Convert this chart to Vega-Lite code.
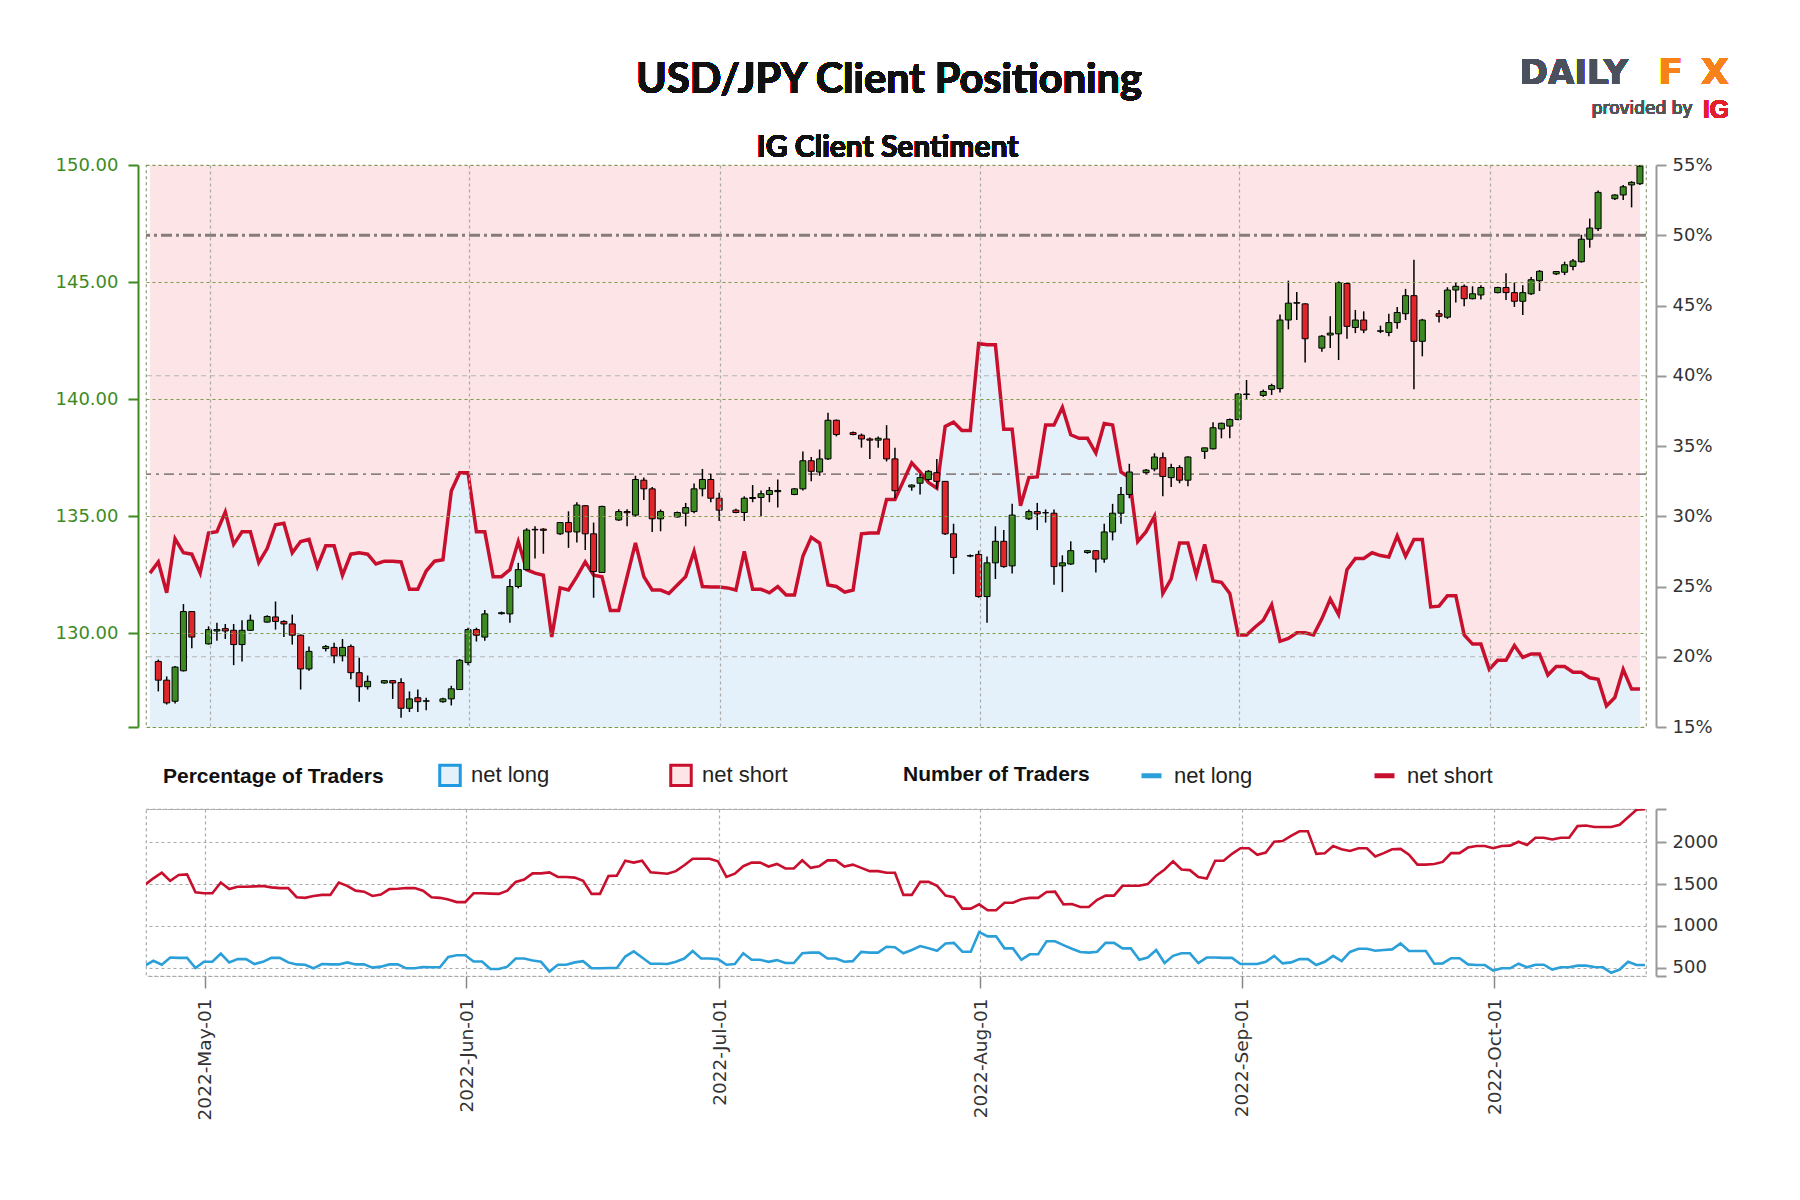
{
"$schema": "https://vega.github.io/schema/vega-lite/v6.json",
"padding": {"left": 54, "top": 54, "right": 20, "bottom": 20},
"background": "white",
"config": {"font": "DejaVu Sans"},
"bounds": "flush",
"spacing": 82,
"resolve": {"scale": {"fill": "independent", "stroke": "independent"}, "legend": {"fill": "independent", "stroke": "independent"}},
"datasets": {
"daily": [
{"d":"2022-04-24","p":25.95,"net long":524,"net short":1492},
{"d":"2022-04-25","p":26.75,"net long":582,"net short":1570},
{"d":"2022-04-26","p":24.56,"net long":535,"net short":1637},
{"d":"2022-04-27","p":28.4,"net long":621,"net short":1539},
{"d":"2022-04-28","p":27.4,"net long":617,"net short":1609},
{"d":"2022-04-29","p":27.3,"net long":617,"net short":1617},
{"d":"2022-04-30","p":25.95,"net long":496,"net short":1402},
{"d":"2022-05-01","p":28.8,"net long":570,"net short":1391},
{"d":"2022-05-02","p":28.9,"net long":570,"net short":1391},
{"d":"2022-05-03","p":30.3,"net long":668,"net short":1520},
{"d":"2022-05-04","p":28.0,"net long":563,"net short":1441},
{"d":"2022-05-05","p":28.9,"net long":602,"net short":1469},
{"d":"2022-05-06","p":28.9,"net long":602,"net short":1469},
{"d":"2022-05-07","p":26.7,"net long":543,"net short":1473},
{"d":"2022-05-08","p":27.7,"net long":570,"net short":1477},
{"d":"2022-05-09","p":29.4,"net long":617,"net short":1461},
{"d":"2022-05-10","p":29.5,"net long":617,"net short":1453},
{"d":"2022-05-11","p":27.4,"net long":563,"net short":1453},
{"d":"2022-05-12","p":28.2,"net long":539,"net short":1344},
{"d":"2022-05-13","p":28.35,"net long":535,"net short":1336},
{"d":"2022-05-14","p":26.4,"net long":492,"net short":1359},
{"d":"2022-05-15","p":27.9,"net long":543,"net short":1371},
{"d":"2022-05-16","p":27.9,"net long":539,"net short":1371},
{"d":"2022-05-17","p":25.8,"net long":539,"net short":1520},
{"d":"2022-05-18","p":27.3,"net long":563,"net short":1480},
{"d":"2022-05-19","p":27.4,"net long":539,"net short":1422},
{"d":"2022-05-20","p":27.3,"net long":539,"net short":1410},
{"d":"2022-05-21","p":26.6,"net long":500,"net short":1359},
{"d":"2022-05-22","p":26.8,"net long":512,"net short":1375},
{"d":"2022-05-23","p":26.8,"net long":539,"net short":1441},
{"d":"2022-05-24","p":26.75,"net long":539,"net short":1445},
{"d":"2022-05-25","p":24.8,"net long":492,"net short":1453},
{"d":"2022-05-26","p":24.8,"net long":492,"net short":1453},
{"d":"2022-05-27","p":26.1,"net long":508,"net short":1422},
{"d":"2022-05-28","p":26.8,"net long":504,"net short":1344},
{"d":"2022-05-29","p":26.9,"net long":504,"net short":1336},
{"d":"2022-05-30","p":31.8,"net long":629,"net short":1316},
{"d":"2022-05-31","p":33.1,"net long":649,"net short":1285},
{"d":"2022-06-01","p":33.1,"net long":649,"net short":1285},
{"d":"2022-06-02","p":28.9,"net long":574,"net short":1391},
{"d":"2022-06-03","p":28.9,"net long":574,"net short":1391},
{"d":"2022-06-04","p":25.7,"net long":484,"net short":1387},
{"d":"2022-06-05","p":25.7,"net long":484,"net short":1383},
{"d":"2022-06-06","p":26.2,"net long":512,"net short":1422},
{"d":"2022-06-07","p":28.2,"net long":609,"net short":1527},
{"d":"2022-06-08","p":26.2,"net long":609,"net short":1555},
{"d":"2022-06-09","p":25.95,"net long":586,"net short":1629},
{"d":"2022-06-10","p":25.8,"net long":570,"net short":1629},
{"d":"2022-06-11","p":21.4,"net long":453,"net short":1641},
{"d":"2022-06-12","p":24.9,"net long":535,"net short":1586},
{"d":"2022-06-13","p":24.75,"net long":535,"net short":1586},
{"d":"2022-06-14","p":25.7,"net long":563,"net short":1578},
{"d":"2022-06-15","p":26.75,"net long":578,"net short":1539},
{"d":"2022-06-16","p":25.8,"net long":492,"net short":1383},
{"d":"2022-06-17","p":25.7,"net long":492,"net short":1383},
{"d":"2022-06-18","p":23.3,"net long":496,"net short":1598},
{"d":"2022-06-19","p":23.3,"net long":496,"net short":1602},
{"d":"2022-06-20","p":25.7,"net long":633,"net short":1781},
{"d":"2022-06-21","p":28.1,"net long":695,"net short":1758},
{"d":"2022-06-22","p":25.7,"net long":621,"net short":1781},
{"d":"2022-06-23","p":24.75,"net long":547,"net short":1641},
{"d":"2022-06-24","p":24.75,"net long":547,"net short":1633},
{"d":"2022-06-25","p":24.5,"net long":543,"net short":1625},
{"d":"2022-06-26","p":25.1,"net long":570,"net short":1656},
{"d":"2022-06-27","p":25.7,"net long":609,"net short":1727},
{"d":"2022-06-28","p":27.5,"net long":699,"net short":1805},
{"d":"2022-06-29","p":25.0,"net long":609,"net short":1805},
{"d":"2022-06-30","p":24.96,"net long":609,"net short":1805},
{"d":"2022-07-01","p":24.96,"net long":602,"net short":1773},
{"d":"2022-07-02","p":24.9,"net long":535,"net short":1586},
{"d":"2022-07-03","p":24.75,"net long":543,"net short":1625},
{"d":"2022-07-04","p":27.5,"net long":672,"net short":1715},
{"d":"2022-07-05","p":24.8,"net long":594,"net short":1758},
{"d":"2022-07-06","p":24.8,"net long":594,"net short":1758},
{"d":"2022-07-07","p":24.55,"net long":570,"net short":1711},
{"d":"2022-07-08","p":25.0,"net long":590,"net short":1742},
{"d":"2022-07-09","p":24.4,"net long":555,"net short":1688},
{"d":"2022-07-10","p":24.4,"net long":555,"net short":1688},
{"d":"2022-07-11","p":27.15,"net long":672,"net short":1785},
{"d":"2022-07-12","p":28.5,"net long":680,"net short":1695},
{"d":"2022-07-13","p":28.1,"net long":680,"net short":1715},
{"d":"2022-07-14","p":25.1,"net long":609,"net short":1785},
{"d":"2022-07-15","p":25.0,"net long":609,"net short":1785},
{"d":"2022-07-16","p":24.6,"net long":570,"net short":1711},
{"d":"2022-07-17","p":24.75,"net long":578,"net short":1734},
{"d":"2022-07-18","p":28.75,"net long":688,"net short":1695},
{"d":"2022-07-19","p":28.8,"net long":680,"net short":1656},
{"d":"2022-07-20","p":28.8,"net long":680,"net short":1656},
{"d":"2022-07-21","p":31.2,"net long":750,"net short":1637},
{"d":"2022-07-22","p":31.2,"net long":745,"net short":1637},
{"d":"2022-07-23","p":32.5,"net long":672,"net short":1371},
{"d":"2022-07-24","p":33.8,"net long":711,"net short":1371},
{"d":"2022-07-25","p":33.15,"net long":758,"net short":1527},
{"d":"2022-07-26","p":32.4,"net long":731,"net short":1527},
{"d":"2022-07-27","p":32.0,"net long":703,"net short":1480},
{"d":"2022-07-28","p":36.4,"net long":789,"net short":1363},
{"d":"2022-07-29","p":36.7,"net long":797,"net short":1344},
{"d":"2022-07-30","p":36.1,"net long":691,"net short":1207},
{"d":"2022-07-31","p":36.1,"net long":691,"net short":1207},
{"d":"2022-08-01","p":42.3,"net long":926,"net short":1258},
{"d":"2022-08-02","p":42.2,"net long":875,"net short":1188},
{"d":"2022-08-03","p":42.2,"net long":875,"net short":1188},
{"d":"2022-08-04","p":36.2,"net long":731,"net short":1277},
{"d":"2022-08-05","p":36.2,"net long":731,"net short":1277},
{"d":"2022-08-06","p":30.75,"net long":594,"net short":1320},
{"d":"2022-08-07","p":32.75,"net long":660,"net short":1336},
{"d":"2022-08-08","p":32.8,"net long":660,"net short":1336},
{"d":"2022-08-09","p":36.5,"net long":816,"net short":1406},
{"d":"2022-08-10","p":36.5,"net long":816,"net short":1410},
{"d":"2022-08-11","p":37.75,"net long":770,"net short":1258},
{"d":"2022-08-12","p":35.8,"net long":727,"net short":1262},
{"d":"2022-08-13","p":35.55,"net long":688,"net short":1227},
{"d":"2022-08-14","p":35.55,"net long":680,"net short":1227},
{"d":"2022-08-15","p":34.5,"net long":691,"net short":1313},
{"d":"2022-08-16","p":36.6,"net long":797,"net short":1363},
{"d":"2022-08-17","p":36.5,"net long":797,"net short":1363},
{"d":"2022-08-18","p":33.15,"net long":731,"net short":1480},
{"d":"2022-08-19","p":32.75,"net long":731,"net short":1480},
{"d":"2022-08-20","p":28.2,"net long":594,"net short":1480},
{"d":"2022-08-21","p":28.9,"net long":621,"net short":1500},
{"d":"2022-08-22","p":30.0,"net long":711,"net short":1602},
{"d":"2022-08-23","p":24.5,"net long":555,"net short":1676},
{"d":"2022-08-24","p":25.55,"net long":641,"net short":1773},
{"d":"2022-08-25","p":28.1,"net long":672,"net short":1676},
{"d":"2022-08-26","p":28.1,"net long":672,"net short":1668},
{"d":"2022-08-27","p":25.8,"net long":555,"net short":1586},
{"d":"2022-08-28","p":28.0,"net long":621,"net short":1566},
{"d":"2022-08-29","p":25.4,"net long":621,"net short":1781},
{"d":"2022-08-30","p":25.3,"net long":617,"net short":1781},
{"d":"2022-08-31","p":24.5,"net long":617,"net short":1863},
{"d":"2022-09-01","p":21.55,"net long":543,"net short":1930},
{"d":"2022-09-02","p":21.55,"net long":543,"net short":1930},
{"d":"2022-09-03","p":22.1,"net long":543,"net short":1852},
{"d":"2022-09-04","p":22.6,"net long":570,"net short":1879},
{"d":"2022-09-05","p":23.7,"net long":641,"net short":2008},
{"d":"2022-09-06","p":21.1,"net long":551,"net short":2016},
{"d":"2022-09-07","p":21.3,"net long":563,"net short":2078},
{"d":"2022-09-08","p":21.7,"net long":602,"net short":2133},
{"d":"2022-09-09","p":21.7,"net long":602,"net short":2133},
{"d":"2022-09-10","p":21.55,"net long":531,"net short":1863},
{"d":"2022-09-11","p":22.7,"net long":570,"net short":1871},
{"d":"2022-09-12","p":24.1,"net long":641,"net short":1957},
{"d":"2022-09-13","p":23.0,"net long":578,"net short":1918},
{"d":"2022-09-14","p":26.2,"net long":688,"net short":1898},
{"d":"2022-09-15","p":27.0,"net long":727,"net short":1930},
{"d":"2022-09-16","p":27.0,"net long":727,"net short":1930},
{"d":"2022-09-17","p":27.4,"net long":703,"net short":1832},
{"d":"2022-09-18","p":27.2,"net long":711,"net short":1871},
{"d":"2022-09-19","p":27.1,"net long":719,"net short":1918},
{"d":"2022-09-20","p":28.6,"net long":789,"net short":1922},
{"d":"2022-09-21","p":27.15,"net long":699,"net short":1852},
{"d":"2022-09-22","p":28.35,"net long":699,"net short":1734},
{"d":"2022-09-23","p":28.35,"net long":699,"net short":1734},
{"d":"2022-09-24","p":23.55,"net long":547,"net short":1742},
{"d":"2022-09-25","p":23.6,"net long":551,"net short":1766},
{"d":"2022-09-26","p":24.35,"net long":613,"net short":1871},
{"d":"2022-09-27","p":24.35,"net long":613,"net short":1871},
{"d":"2022-09-28","p":21.55,"net long":539,"net short":1938},
{"d":"2022-09-29","p":20.9,"net long":531,"net short":1957},
{"d":"2022-09-30","p":20.9,"net long":531,"net short":1957},
{"d":"2022-10-01","p":19.1,"net long":465,"net short":1930},
{"d":"2022-10-02","p":19.75,"net long":492,"net short":1957},
{"d":"2022-10-03","p":19.75,"net long":492,"net short":1961},
{"d":"2022-10-04","p":20.8,"net long":547,"net short":2008},
{"d":"2022-10-05","p":19.95,"net long":504,"net short":1969},
{"d":"2022-10-06","p":20.2,"net long":535,"net short":2055},
{"d":"2022-10-07","p":20.2,"net long":535,"net short":2055},
{"d":"2022-10-08","p":18.7,"net long":477,"net short":2035},
{"d":"2022-10-09","p":19.3,"net long":504,"net short":2055},
{"d":"2022-10-10","p":19.3,"net long":504,"net short":2055},
{"d":"2022-10-11","p":18.9,"net long":524,"net short":2195},
{"d":"2022-10-12","p":18.9,"net long":524,"net short":2203},
{"d":"2022-10-13","p":18.5,"net long":508,"net short":2184},
{"d":"2022-10-14","p":18.4,"net long":504,"net short":2184},
{"d":"2022-10-15","p":16.5,"net long":438,"net short":2184},
{"d":"2022-10-16","p":17.1,"net long":477,"net short":2211},
{"d":"2022-10-17","p":19.1,"net long":570,"net short":2301},
{"d":"2022-10-18","p":17.7,"net long":531,"net short":2391},
{"d":"2022-10-19","p":17.7,"net long":531,"net short":2398}
],
"candles": [
{"d":"2022-04-25","o":128.8,"h":128.88,"l":127.52,"c":128.0},
{"d":"2022-04-26","o":128.0,"h":128.16,"l":126.96,"c":127.03},
{"d":"2022-04-27","o":127.1,"h":128.6,"l":127.0,"c":128.56},
{"d":"2022-04-28","o":128.4,"h":131.25,"l":128.37,"c":130.93},
{"d":"2022-04-29","o":130.93,"h":130.95,"l":129.36,"c":129.84},
{"d":"2022-05-01","o":129.55,"h":130.3,"l":129.52,"c":130.16},
{"d":"2022-05-02","o":130.1,"h":130.45,"l":129.68,"c":130.16},
{"d":"2022-05-03","o":130.2,"h":130.4,"l":129.76,"c":130.1},
{"d":"2022-05-04","o":130.13,"h":130.4,"l":128.64,"c":129.52},
{"d":"2022-05-05","o":129.52,"h":130.56,"l":128.8,"c":130.13},
{"d":"2022-05-06","o":130.13,"h":130.8,"l":130.1,"c":130.56},
{"d":"2022-05-08","o":130.48,"h":130.77,"l":130.45,"c":130.72},
{"d":"2022-05-09","o":130.7,"h":131.36,"l":130.16,"c":130.51},
{"d":"2022-05-10","o":130.51,"h":130.56,"l":129.84,"c":130.4},
{"d":"2022-05-11","o":130.4,"h":130.8,"l":129.52,"c":129.92},
{"d":"2022-05-12","o":129.92,"h":129.95,"l":127.6,"c":128.48},
{"d":"2022-05-13","o":128.48,"h":129.44,"l":128.4,"c":129.23},
{"d":"2022-05-15","o":129.35,"h":129.5,"l":129.23,"c":129.44},
{"d":"2022-05-16","o":129.4,"h":129.6,"l":128.72,"c":129.04},
{"d":"2022-05-17","o":129.04,"h":129.76,"l":128.8,"c":129.4},
{"d":"2022-05-18","o":129.44,"h":129.52,"l":128.04,"c":128.32},
{"d":"2022-05-19","o":128.32,"h":128.96,"l":127.08,"c":127.72},
{"d":"2022-05-20","o":127.72,"h":128.2,"l":127.6,"c":127.95},
{"d":"2022-05-22","o":127.88,"h":128.0,"l":127.85,"c":127.98},
{"d":"2022-05-23","o":127.98,"h":128.0,"l":127.2,"c":127.88},
{"d":"2022-05-24","o":127.9,"h":128.08,"l":126.4,"c":126.8},
{"d":"2022-05-25","o":126.8,"h":127.52,"l":126.64,"c":127.2},
{"d":"2022-05-26","o":127.25,"h":127.6,"l":126.64,"c":127.08},
{"d":"2022-05-27","o":127.1,"h":127.25,"l":126.72,"c":127.12},
{"d":"2022-05-29","o":127.08,"h":127.25,"l":127.04,"c":127.2},
{"d":"2022-05-30","o":127.2,"h":127.76,"l":126.92,"c":127.63},
{"d":"2022-05-31","o":127.6,"h":128.9,"l":127.6,"c":128.85},
{"d":"2022-06-01","o":128.75,"h":130.24,"l":128.64,"c":130.16},
{"d":"2022-06-02","o":130.16,"h":130.24,"l":129.65,"c":129.92},
{"d":"2022-06-03","o":129.84,"h":131.0,"l":129.68,"c":130.83},
{"d":"2022-06-05","o":130.84,"h":130.93,"l":130.8,"c":130.88},
{"d":"2022-06-06","o":130.83,"h":132.32,"l":130.45,"c":132.0},
{"d":"2022-06-07","o":132.0,"h":133.01,"l":131.92,"c":132.72},
{"d":"2022-06-08","o":132.72,"h":134.49,"l":132.7,"c":134.41},
{"d":"2022-06-09","o":134.44,"h":134.57,"l":133.2,"c":134.42},
{"d":"2022-06-10","o":134.45,"h":134.49,"l":133.4,"c":134.4},
{"d":"2022-06-12","o":134.25,"h":134.73,"l":134.2,"c":134.73},
{"d":"2022-06-13","o":134.73,"h":135.21,"l":133.65,"c":134.33},
{"d":"2022-06-14","o":134.33,"h":135.6,"l":133.88,"c":135.48},
{"d":"2022-06-15","o":135.45,"h":135.48,"l":133.56,"c":134.25},
{"d":"2022-06-16","o":134.25,"h":134.73,"l":131.52,"c":132.64},
{"d":"2022-06-17","o":132.6,"h":135.45,"l":132.6,"c":135.42},
{"d":"2022-06-19","o":134.84,"h":135.3,"l":134.8,"c":135.2},
{"d":"2022-06-20","o":135.2,"h":135.3,"l":134.57,"c":135.15},
{"d":"2022-06-21","o":135.05,"h":136.73,"l":134.97,"c":136.57},
{"d":"2022-06-22","o":136.54,"h":136.65,"l":135.69,"c":136.17},
{"d":"2022-06-23","o":136.17,"h":136.25,"l":134.33,"c":134.89},
{"d":"2022-06-24","o":134.89,"h":135.29,"l":134.36,"c":135.2},
{"d":"2022-06-26","o":134.97,"h":135.2,"l":134.94,"c":135.16},
{"d":"2022-06-27","o":135.13,"h":135.57,"l":134.57,"c":135.37},
{"d":"2022-06-28","o":135.2,"h":136.4,"l":135.13,"c":136.17},
{"d":"2022-06-29","o":136.17,"h":137.02,"l":135.85,"c":136.57},
{"d":"2022-06-30","o":136.57,"h":136.81,"l":135.6,"c":135.77},
{"d":"2022-07-01","o":135.77,"h":136.0,"l":134.8,"c":135.26},
{"d":"2022-07-03","o":135.26,"h":135.32,"l":135.13,"c":135.16},
{"d":"2022-07-04","o":135.16,"h":135.85,"l":134.8,"c":135.77},
{"d":"2022-07-05","o":135.76,"h":136.33,"l":135.6,"c":135.8},
{"d":"2022-07-06","o":135.8,"h":136.1,"l":135.0,"c":135.96},
{"d":"2022-07-07","o":135.93,"h":136.25,"l":135.6,"c":136.1},
{"d":"2022-07-08","o":136.05,"h":136.57,"l":135.37,"c":136.1},
{"d":"2022-07-10","o":135.93,"h":136.2,"l":135.9,"c":136.17},
{"d":"2022-07-11","o":136.17,"h":137.77,"l":136.1,"c":137.37},
{"d":"2022-07-12","o":137.37,"h":137.53,"l":136.49,"c":136.92},
{"d":"2022-07-13","o":136.89,"h":137.85,"l":136.73,"c":137.45},
{"d":"2022-07-14","o":137.45,"h":139.42,"l":137.4,"c":139.1},
{"d":"2022-07-15","o":139.1,"h":139.13,"l":138.41,"c":138.49},
{"d":"2022-07-17","o":138.57,"h":138.62,"l":138.46,"c":138.49},
{"d":"2022-07-18","o":138.46,"h":138.53,"l":137.93,"c":138.3},
{"d":"2022-07-19","o":138.3,"h":138.36,"l":137.45,"c":138.25},
{"d":"2022-07-20","o":138.25,"h":138.41,"l":137.93,"c":138.33},
{"d":"2022-07-21","o":138.3,"h":138.89,"l":137.34,"c":137.45},
{"d":"2022-07-22","o":137.45,"h":137.93,"l":135.77,"c":136.09},
{"d":"2022-07-24","o":136.25,"h":136.36,"l":136.09,"c":136.33},
{"d":"2022-07-25","o":136.41,"h":136.81,"l":135.93,"c":136.65},
{"d":"2022-07-26","o":136.57,"h":136.97,"l":136.49,"c":136.92},
{"d":"2022-07-27","o":136.86,"h":137.45,"l":136.17,"c":136.49},
{"d":"2022-07-28","o":136.49,"h":136.5,"l":134.2,"c":134.25},
{"d":"2022-07-29","o":134.25,"h":134.68,"l":132.53,"c":133.24},
{"d":"2022-07-31","o":133.3,"h":133.37,"l":133.25,"c":133.32},
{"d":"2022-08-01","o":133.37,"h":133.53,"l":131.52,"c":131.57},
{"d":"2022-08-02","o":131.57,"h":133.28,"l":130.45,"c":133.01},
{"d":"2022-08-03","o":133.01,"h":134.57,"l":132.32,"c":133.93},
{"d":"2022-08-04","o":133.93,"h":134.41,"l":132.8,"c":132.85},
{"d":"2022-08-05","o":132.88,"h":135.53,"l":132.56,"c":135.05},
{"d":"2022-08-07","o":134.89,"h":135.29,"l":134.84,"c":135.2},
{"d":"2022-08-08","o":135.2,"h":135.57,"l":134.41,"c":135.1},
{"d":"2022-08-09","o":135.15,"h":135.29,"l":134.73,"c":135.15},
{"d":"2022-08-10","o":135.13,"h":135.29,"l":132.08,"c":132.85},
{"d":"2022-08-11","o":132.88,"h":133.33,"l":131.76,"c":133.01},
{"d":"2022-08-12","o":132.96,"h":133.93,"l":132.92,"c":133.53},
{"d":"2022-08-14","o":133.45,"h":133.56,"l":133.4,"c":133.53},
{"d":"2022-08-15","o":133.53,"h":133.56,"l":132.6,"c":133.17},
{"d":"2022-08-16","o":133.17,"h":134.68,"l":133.01,"c":134.33},
{"d":"2022-08-17","o":134.33,"h":135.53,"l":133.97,"c":135.13},
{"d":"2022-08-18","o":135.13,"h":136.25,"l":134.68,"c":135.93},
{"d":"2022-08-19","o":135.93,"h":137.24,"l":135.77,"c":136.89},
{"d":"2022-08-21","o":136.86,"h":137.02,"l":136.81,"c":136.97},
{"d":"2022-08-22","o":137.02,"h":137.69,"l":136.92,"c":137.53},
{"d":"2022-08-23","o":137.5,"h":137.72,"l":135.85,"c":136.7},
{"d":"2022-08-24","o":136.65,"h":137.24,"l":136.25,"c":137.08},
{"d":"2022-08-25","o":137.08,"h":137.18,"l":136.41,"c":136.54},
{"d":"2022-08-26","o":136.54,"h":137.56,"l":136.28,"c":137.53},
{"d":"2022-08-28","o":137.77,"h":137.93,"l":137.45,"c":137.92},
{"d":"2022-08-29","o":137.88,"h":139.01,"l":137.85,"c":138.78},
{"d":"2022-08-30","o":138.73,"h":139.0,"l":138.33,"c":138.97},
{"d":"2022-08-31","o":138.85,"h":139.17,"l":138.33,"c":139.13},
{"d":"2022-09-01","o":139.13,"h":140.26,"l":139.1,"c":140.22},
{"d":"2022-09-02","o":140.2,"h":140.82,"l":139.97,"c":140.22},
{"d":"2022-09-04","o":140.16,"h":140.41,"l":140.1,"c":140.33},
{"d":"2022-09-05","o":140.42,"h":140.66,"l":140.18,"c":140.58},
{"d":"2022-09-06","o":140.45,"h":143.62,"l":140.29,"c":143.38},
{"d":"2022-09-07","o":143.38,"h":145.06,"l":142.98,"c":144.1},
{"d":"2022-09-08","o":144.1,"h":144.58,"l":143.38,"c":144.12},
{"d":"2022-09-09","o":144.07,"h":144.1,"l":141.57,"c":142.58},
{"d":"2022-09-11","o":142.18,"h":142.74,"l":142.02,"c":142.69},
{"d":"2022-09-12","o":142.74,"h":143.54,"l":142.18,"c":142.82},
{"d":"2022-09-13","o":142.79,"h":145.03,"l":141.67,"c":144.98},
{"d":"2022-09-14","o":144.94,"h":144.98,"l":142.58,"c":143.11},
{"d":"2022-09-15","o":143.06,"h":143.81,"l":142.82,"c":143.38},
{"d":"2022-09-16","o":143.38,"h":143.75,"l":142.82,"c":142.95},
{"d":"2022-09-18","o":142.9,"h":143.14,"l":142.82,"c":142.92},
{"d":"2022-09-19","o":142.85,"h":143.65,"l":142.69,"c":143.27},
{"d":"2022-09-20","o":143.27,"h":143.94,"l":143.01,"c":143.7},
{"d":"2022-09-21","o":143.65,"h":144.71,"l":143.38,"c":144.42},
{"d":"2022-09-22","o":144.42,"h":145.95,"l":140.42,"c":142.47},
{"d":"2022-09-23","o":142.47,"h":143.43,"l":141.83,"c":143.38},
{"d":"2022-09-25","o":143.65,"h":143.81,"l":143.27,"c":143.54},
{"d":"2022-09-26","o":143.5,"h":144.78,"l":143.43,"c":144.66},
{"d":"2022-09-27","o":144.66,"h":144.98,"l":144.13,"c":144.82},
{"d":"2022-09-28","o":144.82,"h":144.9,"l":143.97,"c":144.29},
{"d":"2022-09-29","o":144.29,"h":144.82,"l":144.26,"c":144.5},
{"d":"2022-09-30","o":144.45,"h":144.87,"l":144.26,"c":144.77},
{"d":"2022-10-02","o":144.55,"h":144.8,"l":144.52,"c":144.77},
{"d":"2022-10-03","o":144.77,"h":145.38,"l":144.23,"c":144.55},
{"d":"2022-10-04","o":144.55,"h":144.98,"l":143.94,"c":144.18},
{"d":"2022-10-05","o":144.18,"h":144.87,"l":143.59,"c":144.55},
{"d":"2022-10-06","o":144.5,"h":145.22,"l":144.45,"c":145.1},
{"d":"2022-10-07","o":145.06,"h":145.51,"l":144.62,"c":145.46},
{"d":"2022-10-09","o":145.35,"h":145.46,"l":145.3,"c":145.45},
{"d":"2022-10-10","o":145.42,"h":145.87,"l":145.3,"c":145.74},
{"d":"2022-10-11","o":145.67,"h":145.99,"l":145.51,"c":145.9},
{"d":"2022-10-12","o":145.87,"h":147.02,"l":145.83,"c":146.83},
{"d":"2022-10-13","o":146.83,"h":147.71,"l":146.47,"c":147.31},
{"d":"2022-10-14","o":147.28,"h":148.91,"l":147.18,"c":148.83},
{"d":"2022-10-16","o":148.56,"h":148.75,"l":148.51,"c":148.72},
{"d":"2022-10-17","o":148.72,"h":149.15,"l":148.51,"c":149.07},
{"d":"2022-10-18","o":149.15,"h":149.31,"l":148.19,"c":149.26},
{"d":"2022-10-19","o":149.2,"h":150.0,"l":149.15,"c":149.95}
]
},
"vconcat": [
{
"width": 1500,
"height": 562,
"view": {"stroke": "#8f9a7a", "strokeDash": [3, 3], "strokeWidth": 1.2},
"layer": [
{
"data": {"name": "daily"},
"layer": [
{
"mark": {"type": "area", "clip": true},
"encoding": {
"x": {"field": "d", "type": "temporal",
"scale": {"type": "utc", "domain": [{"year": 2022, "month": 4, "date": 24, "hours": 3, "utc": true}, {"year": 2022, "month": 10, "date": 19, "hours": 3, "utc": true}]},
"axis": {"orient": "bottom", "values": [{"year": 2022, "month": 5, "date": 1, "hours": 3, "utc": true}, {"year": 2022, "month": 6, "date": 1, "hours": 3, "utc": true}, {"year": 2022, "month": 7, "date": 1, "hours": 3, "utc": true}, {"year": 2022, "month": 8, "date": 1, "hours": 3, "utc": true}, {"year": 2022, "month": 9, "date": 1, "hours": 3, "utc": true}, {"year": 2022, "month": 10, "date": 1, "hours": 3, "utc": true}], "labels": false, "ticks": false, "domain": false, "grid": true, "gridColor": "#aaaaaa", "gridDash": [3, 3], "gridWidth": 1.2, "title": null, "zindex": 1}},
"y": {"field": "p", "type": "quantitative", "scale": {"domain": [15, 55], "nice": false, "zero": false},
"axis": {"orient": "right", "offset": 10, "values": [15, 20, 25, 30, 35, 40, 45, 50, 55], "labelExpr": "datum.value + '%'", "grid": false, "domainColor": "#999999", "domainWidth": 2, "tickColor": "#999999", "tickWidth": 2, "tickSize": 10, "labelColor": "#333333", "labelFont": "DejaVu Sans", "labelFontSize": 18, "labelPadding": 6, "title": null}},
"y2": {"datum": 15},
"fill": {"datum": "net long", "type": "nominal",
"scale": {"domain": ["net long", "net short"], "range": ["#e4f1fb", "#fce4e7"]},
"legend": {"title": "Percentage of Traders", "orient": "none", "legendX": 17, "legendY": 598, "direction": "horizontal", "titleOrient": "left", "titleFont": "Liberation Sans", "titleFontSize": 21, "titleFontWeight": "bold", "titleColor": "#111111", "titlePadding": 54, "titleBaseline": "middle", "titleLimit": 500, "labelFont": "Liberation Sans", "labelFontSize": 22, "labelColor": "#222222", "labelOffset": 9, "symbolType": "square", "symbolSize": 420, "symbolStrokeWidth": 3, "columnPadding": 114,
"encode": {"symbols": {"update": {"stroke": {"signal": "datum.value === 'net long' ? '#1f9ae0' : '#c8102e'"}, "strokeWidth": {"value": 3}}}}}}
}
},
{
"mark": {"type": "area", "clip": true},
"encoding": {
"x": {"field": "d", "type": "temporal"},
"y": {"field": "p", "type": "quantitative"},
"y2": {"datum": 55},
"fill": {"datum": "net short", "type": "nominal"}
}
},
{
"data": {"values": [{"v": 20}, {"v": 40}]},
"mark": {"type": "rule", "color": "#b5b5b5", "strokeDash": [5, 4], "strokeWidth": 1.2},
"encoding": {"y": {"field": "v", "type": "quantitative"}}
},
{
"data": {"values": [{"v": 33}]},
"mark": {"type": "rule", "color": "#8a8282", "strokeDash": [10, 5, 3, 5], "strokeWidth": 1.6},
"encoding": {"y": {"field": "v", "type": "quantitative"}}
},
{
"data": {"values": [{"v": 50}]},
"mark": {"type": "rule", "color": "#857b7b", "strokeDash": [11, 4, 3, 4], "strokeWidth": 3},
"encoding": {"y": {"field": "v", "type": "quantitative"}}
},
{
"mark": {"type": "line", "color": "#c8102e", "strokeWidth": 3.5, "clip": true},
"encoding": {
"x": {"field": "d", "type": "temporal"},
"y": {"field": "p", "type": "quantitative"}
}
}
]
},
{
"data": {"name": "candles"},
"layer": [
{
"mark": {"type": "rule", "color": "#000000", "strokeWidth": 1.5},
"encoding": {
"x": {"field": "d", "type": "temporal"},
"y": {"field": "l", "type": "quantitative", "scale": {"domain": [126, 150], "nice": false, "zero": false},
"axis": {"orient": "left", "offset": 8, "values": [126, 130, 135, 140, 145, 150], "labelExpr": "datum.value == 126 ? '' : format(datum.value, '.2f')", "grid": true, "gridColor": "#7d9a45", "gridDash": [3, 3], "gridWidth": 1.2, "domainColor": "#3d8b1f", "domainWidth": 2, "tickColor": "#3d8b1f", "tickWidth": 2, "tickSize": 10, "labelColor": "#3d8b1f", "labelFont": "DejaVu Sans", "labelFontSize": 18, "labelPadding": 10, "title": null, "zindex": 1}},
"y2": {"field": "h"}
}
},
{
"mark": {"type": "bar", "width": 6, "stroke": "#000000", "strokeWidth": 1, "opacity": 1},
"encoding": {
"x": {"field": "d", "type": "temporal"},
"y": {"field": "o", "type": "quantitative"},
"y2": {"field": "c"},
"fill": {"condition": {"test": "datum.c >= datum.o", "value": "#3c8a21"}, "value": "#e0262b"}
}
},
{
"mark": {"type": "text", "text": "USD/JPY Client Positioning", "font": "Lato", "fontSize": 41.5, "fontWeight": "bold", "color": "#111111", "align": "center", "baseline": "alphabetic"},
"encoding": {
"x": {"datum": {"year": 2022, "month": 7, "date": 21, "hours": 7, "utc": true}, "type": "temporal"},
"y": {"datum": 153.07, "type": "quantitative"}
}
},
{
"mark": {"type": "text", "text": "IG Client Sentiment", "font": "Lato", "fontSize": 30, "fontWeight": "bold", "color": "#111111", "align": "center", "baseline": "alphabetic"},
"encoding": {
"x": {"datum": {"year": 2022, "month": 7, "date": 21, "hours": 3, "utc": true}, "type": "temporal"},
"y": {"datum": 150.36, "type": "quantitative"}
}
},
{
"mark": {"type": "text", "text": "DAILY", "font": "DejaVu Sans", "fontSize": 34, "fontWeight": "bold", "color": "#4a505c", "align": "left", "baseline": "alphabetic"},
"encoding": {
"x": {"datum": {"year": 2022, "month": 10, "date": 4, "hours": 15, "minutes": 36, "utc": true}, "type": "temporal"},
"y": {"datum": 153.46, "type": "quantitative"}
}
},
{
"mark": {"type": "text", "text": "F\u2002X", "font": "DejaVu Sans", "fontSize": 36, "fontWeight": "bold", "color": "#f7821b", "align": "right", "baseline": "alphabetic"},
"encoding": {
"x": {"datum": {"year": 2022, "month": 10, "date": 29, "hours": 14, "minutes": 30, "utc": true}, "type": "temporal"},
"y": {"datum": 153.46, "type": "quantitative"}
}
},
{
"mark": {"type": "text", "text": "provided by", "font": "DejaVu Sans", "fontSize": 17, "color": "#555555", "align": "right", "baseline": "alphabetic"},
"encoding": {
"x": {"datum": {"year": 2022, "month": 10, "date": 25, "hours": 7, "utc": true}, "type": "temporal"},
"y": {"datum": 152.18, "type": "quantitative"}
}
},
{
"mark": {"type": "text", "text": "IG", "font": "Liberation Sans", "fontSize": 25, "fontWeight": "bold", "color": "#e3202a", "align": "right", "baseline": "alphabetic"},
"encoding": {
"x": {"datum": {"year": 2022, "month": 10, "date": 29, "hours": 16, "utc": true}, "type": "temporal"},
"y": {"datum": 152.0, "type": "quantitative"}
}
}
]
}
],
"resolve": {"scale": {"y": "independent"}}
},
{
"width": 1500,
"height": 167,
"view": {"stroke": "#a8a8a8", "strokeDash": [3, 3], "strokeWidth": 1.2},
"data": {"name": "daily"},
"transform": [{"fold": ["net long", "net short"], "as": ["key", "n"]}],
"mark": {"type": "line", "strokeWidth": 2.6, "clip": true},
"encoding": {
"x": {"field": "d", "type": "temporal",
"scale": {"type": "utc", "domain": [{"year": 2022, "month": 4, "date": 24, "hours": 3, "utc": true}, {"year": 2022, "month": 10, "date": 19, "hours": 3, "utc": true}]},
"axis": {"orient": "bottom", "values": [{"year": 2022, "month": 5, "date": 1, "hours": 3, "utc": true}, {"year": 2022, "month": 6, "date": 1, "hours": 3, "utc": true}, {"year": 2022, "month": 7, "date": 1, "hours": 3, "utc": true}, {"year": 2022, "month": 8, "date": 1, "hours": 3, "utc": true}, {"year": 2022, "month": 9, "date": 1, "hours": 3, "utc": true}, {"year": 2022, "month": 10, "date": 1, "hours": 3, "utc": true}], "labelExpr": "utcFormat(datum.value, '%Y-%b-%d')", "labelAngle": 270, "labelAlign": "right", "labelBaseline": "middle", "labelFont": "DejaVu Sans", "labelFontSize": 18.5, "labelColor": "#333333", "tickSize": 12, "tickColor": "#888888", "tickWidth": 1.5, "labelPadding": 10, "domain": false, "grid": true, "gridColor": "#aaaaaa", "gridDash": [3, 3], "gridWidth": 1.2, "title": null}},
"y": {"field": "n", "type": "quantitative", "scale": {"domain": [400, 2400], "nice": false, "zero": false},
"axis": {"orient": "right", "offset": 10, "values": [400, 500, 1000, 1500, 2000, 2400], "labelExpr": "datum.value == 400 || datum.value == 2400 ? '' : format(datum.value, 'd')", "grid": true, "gridColor": "#aaaaaa", "gridDash": [3, 3], "gridWidth": 1.2, "domainColor": "#999999", "domainWidth": 2, "tickColor": "#999999", "tickWidth": 2, "tickSize": 10, "labelFont": "DejaVu Sans", "labelFontSize": 18, "labelColor": "#333333", "labelPadding": 6, "title": null}},
"stroke": {"field": "key", "type": "nominal",
"scale": {"domain": ["net long", "net short"], "range": ["#2a9fd8", "#c8102e"]},
"legend": {"title": "Number of Traders", "orient": "none", "legendX": 757, "legendY": -46, "direction": "horizontal", "titleOrient": "left", "titleFont": "Liberation Sans", "titleFontSize": 21, "titleFontWeight": "bold", "titleColor": "#111111", "titlePadding": 49, "titleBaseline": "middle", "titleLimit": 500, "labelFont": "Liberation Sans", "labelFontSize": 22, "labelColor": "#222222", "labelOffset": 10, "symbolType": "stroke", "symbolSize": 400, "symbolStrokeWidth": 5, "columnPadding": 111}}
}
}
]
}
